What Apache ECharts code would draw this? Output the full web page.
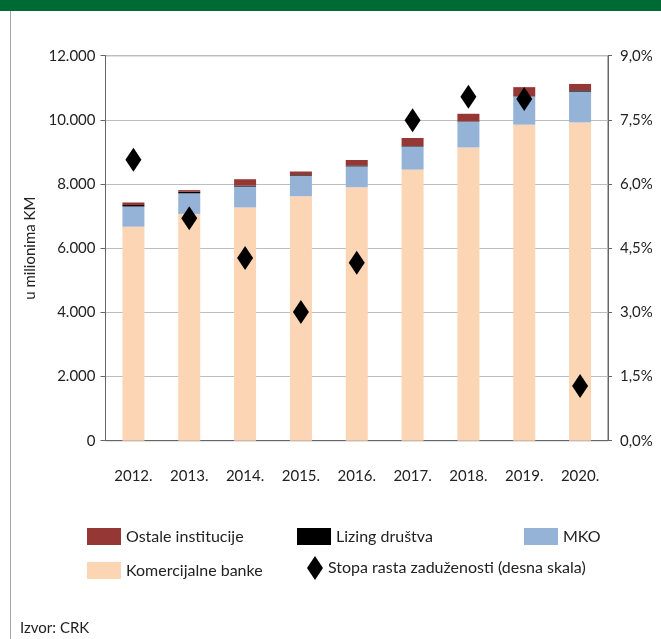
<!DOCTYPE html>
<html>
<head>
<meta charset="utf-8">
<script src="https://cdn.jsdelivr.net/npm/echarts@6/dist/echarts.min.js"></script>
<style>
  html, body { margin: 0; padding: 0; background: #fff; }
  #chart { width: 661px; height: 639px; }
</style>
</head>
<body>
<div id="chart"></div>
<script>
const years = ['2012.', '2013.', '2014.', '2015.', '2016.', '2017.', '2018.', '2019.', '2020.']
// u milionima KM
const komercijalneBanke = [6670, 7070, 7270, 7620, 7900, 8450, 9140, 9850, 9920]
const mko = [630, 640, 650, 640, 650, 720, 800, 880, 960]
const lizingDrustva = [45, 50, 30, 20, 30, 15, 10, 10, 40]
const ostaleInstitucije = [80, 50, 200, 110, 170, 250, 240, 280, 200]
// stopa rasta, %
const stopaRasta = [6.57, 5.20, 4.27, 3.01, 4.16, 7.49, 8.04, 7.99, 1.28]

const font = 'Lato'
const txt = '#222'

const chart = echarts.init(document.getElementById('chart'))

function legendItem(name, left, top, extra) {
    return Object.assign({
        data: [name],
        left, top,
        orient: 'horizontal',
        itemWidth: 34,
        itemHeight: 17,
        icon: 'rect',
        selectedMode: false,
        textStyle: { fontFamily: font, fontSize: 16, color: txt }
    }, extra || {})
}

const option = {
    animation: false,
    backgroundColor: '#fff',
    textStyle: { fontFamily: font },
    graphic: [
        { type: 'rect', shape: { x: 0, y: 0, width: 661, height: 11 }, style: { fill: '#006a35' } },
        { type: 'line', shape: { x1: 10.5, y1: 11, x2: 10.5, y2: 639 }, style: { stroke: '#a6a6a6', lineWidth: 1 } },
        { type: 'text', left: 20, top: 621, style: { text: 'Izvor: CRK', font: '15px Lato', fill: txt } }
    ],
    legend: [
        legendItem('Ostale institucije', 82, 523),
        legendItem('Lizing društva', 292, 523),
        legendItem('MKO', 519, 523),
        legendItem('Komercijalne banke', 82, 557),
        legendItem('Stopa rasta zaduženosti (desna skala)', 302, 551, { icon: 'diamond', itemWidth: 16, itemHeight: 24, itemStyle: { color: '#000', opacity: 1 } })
    ],
    grid: {
        left: 105.5, right: 53, top: 55.7, height: 385,
        show: true, borderColor: '#666', borderWidth: 1
    },
    xAxis: {
        type: 'category',
        data: years,
        axisLine: { lineStyle: { color: '#666' } },
        axisTick: { length: 8, lineStyle: { color: '#666' } },
        axisLabel: { margin: 28, fontFamily: font, fontSize: 15, color: txt }
    },
    yAxis: [
        {
            type: 'value', min: 0, max: 12000, interval: 2000,
            name: 'u milionima KM', nameLocation: 'middle', nameGap: 58,
            nameTextStyle: { fontFamily: font, fontSize: 15, color: txt },
            axisLine: { show: true, lineStyle: { color: '#666' } },
            axisTick: { show: true, length: 5, lineStyle: { color: '#666' } },
            axisLabel: {
                margin: 10, fontFamily: font, fontSize: 15, color: txt,
                formatter: v => v === 0 ? '0' : (v / 1000).toFixed(3)
            },
            splitLine: { lineStyle: { color: '#bdbdbd' } }
        },
        {
            type: 'value', min: 0, max: 9, interval: 1.5, position: 'right',
            axisLine: { show: true, lineStyle: { color: '#666' } },
            axisTick: { show: true, length: 4, lineStyle: { color: '#666' } },
            axisLabel: {
                margin: 12, fontFamily: font, fontSize: 15, color: txt,
                formatter: v => v.toFixed(1).replace('.', ',') + '%'
            },
            splitLine: { show: false }
        }
    ],
    series: [
        { name: 'Komercijalne banke', type: 'bar', stack: 'k', barWidth: 22, data: komercijalneBanke, itemStyle: { color: '#fcd5b5' } },
        { name: 'MKO', type: 'bar', stack: 'k', data: mko, itemStyle: { color: '#95b3d7' } },
        { name: 'Lizing društva', type: 'bar', stack: 'k', data: lizingDrustva, itemStyle: { color: '#000' } },
        { name: 'Ostale institucije', type: 'bar', stack: 'k', data: ostaleInstitucije, itemStyle: { color: '#953735' } },
        {
            name: 'Stopa rasta zaduženosti (desna skala)', type: 'scatter', yAxisIndex: 1,
            symbol: 'diamond', symbolSize: [16, 24], data: stopaRasta,
            itemStyle: { color: '#000', opacity: 1 }, z: 5
        }
    ]
}

chart.setOption(option)
</script>
</body>
</html>
